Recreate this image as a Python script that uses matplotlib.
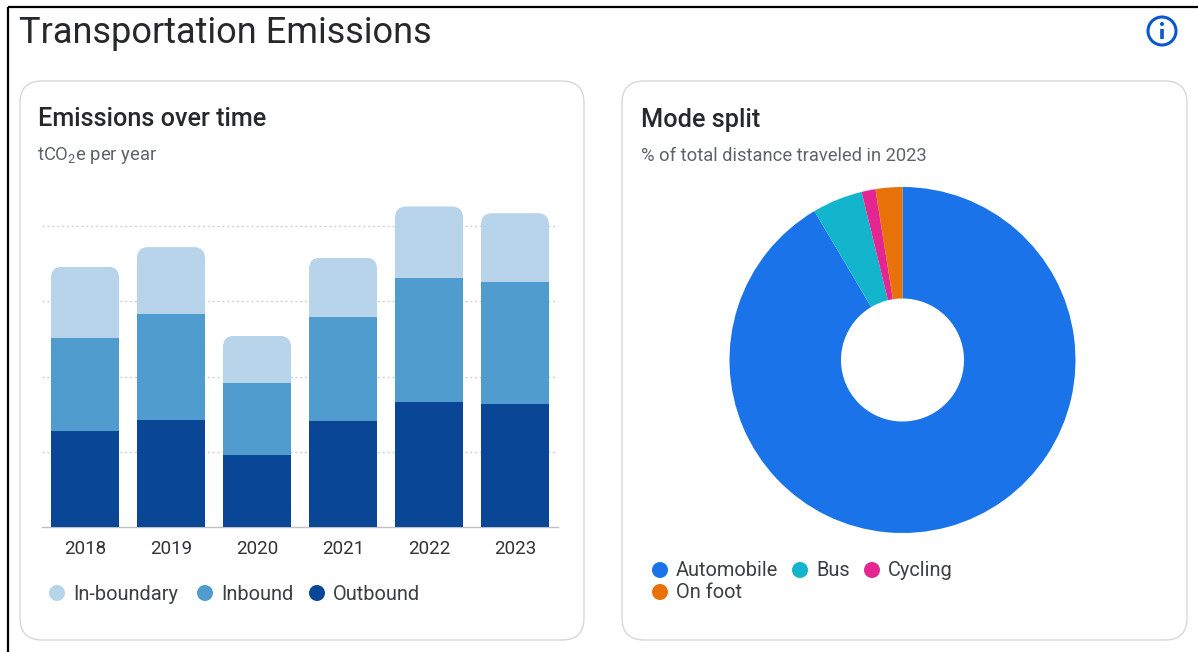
import matplotlib
matplotlib.use('Agg')
import numpy as np
import matplotlib.pyplot as plt
from matplotlib.patches import FancyBboxPatch, Circle

plt.rcParams['font.family'] = ['Roboto', 'DejaVu Sans']
plt.rcParams['mathtext.default'] = 'regular'

# bar data (one grid step = 10 units, no y labels in the original)
years = ['2018', '2019', '2020', '2021', '2022', '2023']
outbound = [12.8, 14.2, 9.6, 14.1, 16.6, 16.3]
inbound = [12.3, 14.1, 9.5, 13.8, 16.5, 16.3]
in_boundary = [9.5, 8.9, 6.3, 7.9, 9.5, 9.1]
grid_values = [10, 20, 30, 40]

# pie data, clockwise from the top
modes = ['Automobile', 'Bus', 'Cycling', 'On foot']
mode_share = [91.5, 4.7, 1.3, 2.5]

bar_colors = ['#0a4696', '#519ccf', '#b8d4ea']
mode_colors = ['#1a73e8', '#12b5cb', '#e52592', '#e8710a']
dark = '#26282b'
grey = '#5f6368'

W, H = 1198, 652
fig = plt.figure(figsize=(W / 100, H / 100), dpi=100, facecolor='white')


def px_axes(left, top, right, bottom, **kw):
    return fig.add_axes([left / W, 1 - bottom / H, (right - left) / W, (bottom - top) / H], **kw)


# background layer in pixel coords
bg = px_axes(0, 0, W, H)
bg.set_xlim(0, W)
bg.set_ylim(H, 0)
bg.axis('off')

bg.plot([8, 8], [7, H], color='black', lw=1.6, solid_capstyle='butt')
bg.plot([8, W], [7, 7], color='black', lw=1.6, solid_capstyle='butt')

for x0, x1 in [(20, 584), (622, 1187)]:
    card = FancyBboxPatch((x0 + 22, 81 + 22), x1 - x0 - 44, 559 - 44,
                          boxstyle='round,pad=22,rounding_size=22',
                          fc='white', ec='#d5d7da', lw=1.0)
    bg.add_patch(card)

bg.text(19, 33, 'Transportation Emissions', fontsize=26, color=dark, va='center', ha='left')
bg.text(38, 119.5, 'Emissions over time', fontsize=18.2, color=dark, va='center', ha='left', fontweight='medium')
bg.text(641, 119.5, 'Mode split', fontsize=18.2, color=dark, va='center', ha='left', fontweight='medium')
bg.text(37, 156, 'tCO$_2$e per year', fontsize=13.2, color=grey, va='center', ha='left')
bg.text(641, 156, '% of total distance traveled in 2023', fontsize=13.2, color=grey, va='center', ha='left')

# info icon
icon = '#0b57d0'
bg.add_patch(Circle((1162, 31), 14, fc='none', ec=icon, lw=2.2))
bg.add_patch(Circle((1162, 24), 2, fc=icon, ec='none'))
bg.plot([1162, 1162], [29, 39], color=icon, lw=2.6, solid_capstyle='butt')

# legends
bar_legend = [('In-boundary', 57, 593, bar_colors[2]),
              ('Inbound', 205, 593, bar_colors[1]),
              ('Outbound', 317, 593, bar_colors[0])]
pie_legend = [(modes[0], 660, 570, mode_colors[0]),
              (modes[1], 800, 570, mode_colors[1]),
              (modes[2], 872, 570, mode_colors[2]),
              (modes[3], 660, 592, mode_colors[3])]
for label, x, y, c in bar_legend + pie_legend:
    bg.add_patch(Circle((x, y), 8, fc=c, ec='none'))
    bg.text(x + 16, y + 1, label, fontsize=14.4, color='#3c4043', va='center', ha='left')

# stacked bars
ax = px_axes(42, 200, 558, 527, facecolor='none')
x = np.arange(len(years))
width = 68 / 86
ax.set_xlim(-0.5, 5.5)
ax.set_ylim(0, 327 / 7.525)

b1 = ax.bar(x, outbound, width, color=bar_colors[0], zorder=3)
base = np.array(outbound)
b2 = ax.bar(x, inbound, width, bottom=base, color=bar_colors[1], zorder=3)
base = base + np.array(inbound)
b3 = ax.bar(x, in_boundary, width, bottom=base, color=bar_colors[2], zorder=3)

# round only the top of each stack by clipping
for rect in b3:
    clip = FancyBboxPatch((rect.get_x(), rect.get_y() - 20), rect.get_width(), rect.get_height() + 20,
                          boxstyle='round,pad=0,rounding_size=0.13', mutation_aspect=1.5 / 0.13,
                          transform=ax.transData)
    rect.set_clip_path(clip)

ax.set_yticks(grid_values)
ax.yaxis.grid(True, color='#cfd1d4', lw=1, linestyle=(0, (1.5, 2)), zorder=0)
ax.set_axisbelow(True)
ax.tick_params(axis='y', length=0, labelleft=False)
ax.set_xticks(x, years)
ax.tick_params(axis='x', length=0, pad=9, labelsize=13.5, labelcolor='#303236')
for side in ['top', 'left', 'right']:
    ax.spines[side].set_visible(False)
ax.spines['bottom'].set_color('#bdc1c6')
ax.spines['bottom'].set_linewidth(1)

# donut
pie_ax = px_axes(902.5 - 173, 360 - 173, 902.5 + 173, 360 + 173, facecolor='none')
pie_ax.pie(mode_share, colors=mode_colors, startangle=90, counterclock=False, radius=1,
           wedgeprops={'width': 1 - 61.5 / 173, 'linewidth': 0})
pie_ax.set_xlim(-1, 1)
pie_ax.set_ylim(-1, 1)

fig.savefig('out.png', dpi=100)
